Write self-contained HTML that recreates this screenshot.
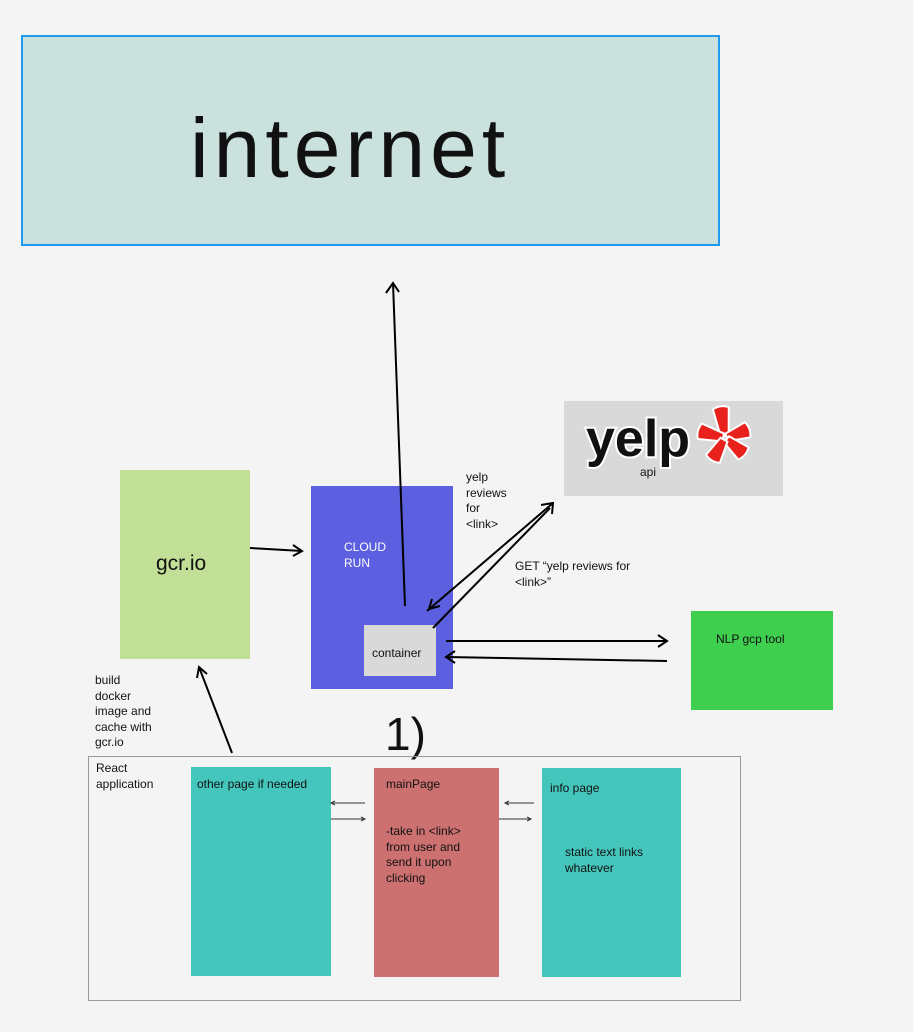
<!DOCTYPE html>
<html><head><meta charset="utf-8"><style>
body{margin:0;width:913px;height:1032px;background:#f4f4f4;position:relative;overflow:hidden;font-family:"Liberation Sans",sans-serif;color:#111}
.b{position:absolute;box-sizing:border-box}
.t{position:absolute;font-size:12px;line-height:15.5px;white-space:nowrap}
</style></head><body>
<div class="b" style="left:21px;top:35px;width:699px;height:211px;background:#cae1de;border:2px solid #1e9bf0"></div>
<div class="t" style="left:190px;top:98px;font-size:84px;line-height:100px;letter-spacing:5px">internet</div>

<div class="b" style="left:120px;top:470px;width:130px;height:189px;background:#c1df97"></div>
<div class="t" style="left:156px;top:552px;font-size:21px;line-height:24px">gcr.io</div>

<div class="b" style="left:311px;top:486px;width:142px;height:203px;background:#5c5fe0"></div>
<div class="t" style="left:344px;top:540px;color:#fff">CLOUD<br>RUN</div>
<div class="b" style="left:364px;top:625px;width:72px;height:51px;background:#d9d9d9"></div>
<div class="t" style="left:372px;top:646px">container</div>

<div class="b" style="left:564px;top:401px;width:219px;height:95px;background:#d9d9d9"></div>
<svg class="b" style="left:564px;top:401px" width="219" height="95">
<text x="22" y="55" font-family="Liberation Sans" font-weight="bold" font-size="52" letter-spacing="0" fill="#111" stroke="#fff" stroke-width="4" paint-order="stroke">yelp</text>
<g transform="translate(161,37)" fill="#e8211c" stroke="#fff" stroke-width="2">
<path d="M-4 -2 L-8 -30 Q0 -34 8 -30 L4 -2 Z" transform="rotate(-8)"/>
<path d="M-4 -2 L-8 -26 Q0 -30 8 -26 L4 -2 Z" transform="rotate(-75)"/>
<path d="M-4 -2 L-8 -24 Q0 -28 8 -24 L4 -2 Z" transform="rotate(70)"/>
<path d="M-4 -2 L-8 -24 Q0 -28 8 -24 L4 -2 Z" transform="rotate(130)"/>
<path d="M-4 -2 L-8 -24 Q0 -28 8 -24 L4 -2 Z" transform="rotate(-150)"/>
</g>
<text x="76" y="75" font-family="Liberation Sans" font-size="12" fill="#111">api</text>
</svg>

<div class="b" style="left:691px;top:611px;width:142px;height:99px;background:#3fcf4f"></div>
<div class="t" style="left:716px;top:632px">NLP gcp tool</div>

<div class="t" style="left:466px;top:470px"> yelp<br>reviews<br>for<br>&lt;link&gt;</div>
<div class="t" style="left:515px;top:559px">GET “yelp reviews for<br>&lt;link&gt;”</div>
<div class="t" style="left:95px;top:673px">build<br>docker<br>image and<br>cache with<br>gcr.io</div>
<div class="t" style="left:385px;top:708px;font-size:46px;line-height:52px">1)</div>

<div class="b" style="left:88px;top:756px;width:653px;height:245px;border:1px solid #999"></div>
<div class="t" style="left:96px;top:761px">React<br>application</div>
<div class="b" style="left:191px;top:767px;width:140px;height:209px;background:#45c6bd"></div>
<div class="t" style="left:197px;top:777px">other page if needed</div>
<div class="b" style="left:374px;top:768px;width:125px;height:209px;background:#cc7070"></div>
<div class="t" style="left:386px;top:777px">mainPage</div>
<div class="t" style="left:386px;top:824px">-take in &lt;link&gt;<br>from user and<br>send it upon<br>clicking</div>
<div class="b" style="left:542px;top:768px;width:139px;height:209px;background:#45c6bd"></div>
<div class="t" style="left:550px;top:781px">info page</div>
<div class="t" style="left:565px;top:845px">static text links<br>whatever</div>

<svg class="b" style="left:0;top:0" width="913" height="1032">
<g stroke="#000" stroke-width="2" fill="none">
<path d="M405 606 L393 283 M386 293 L393 283 L399 292"/>
<path d="M250 548 L302 551 M293 545 L302 551 L293 556"/>
<path d="M232 753 L199 667 M197 678 L199 667 L207 674"/>
<path d="M427 611 L553 503 M541 505 L553 503 L552 514"/>
<path d="M433 628 L550 508"/>
<path d="M429 609 L440 606 M429 609 L432 599"/>
<path d="M446 641 L667 641 M658 635 L667 641 L658 647"/>
<path d="M667 661 L446 657 M455 651 L446 657 L455 663"/>
</g>
<g stroke="#333" stroke-width="1" fill="none">
<path d="M365 803 L331 803 M335 801 L331 803 L335 805"/>
<path d="M331 819 L365 819 M361 817 L365 819 L361 821"/>
<path d="M534 803 L505 803 M509 801 L505 803 L509 805"/>
<path d="M499 819 L531 819 M527 817 L531 819 L527 821"/>
</g></svg>
</body></html>
